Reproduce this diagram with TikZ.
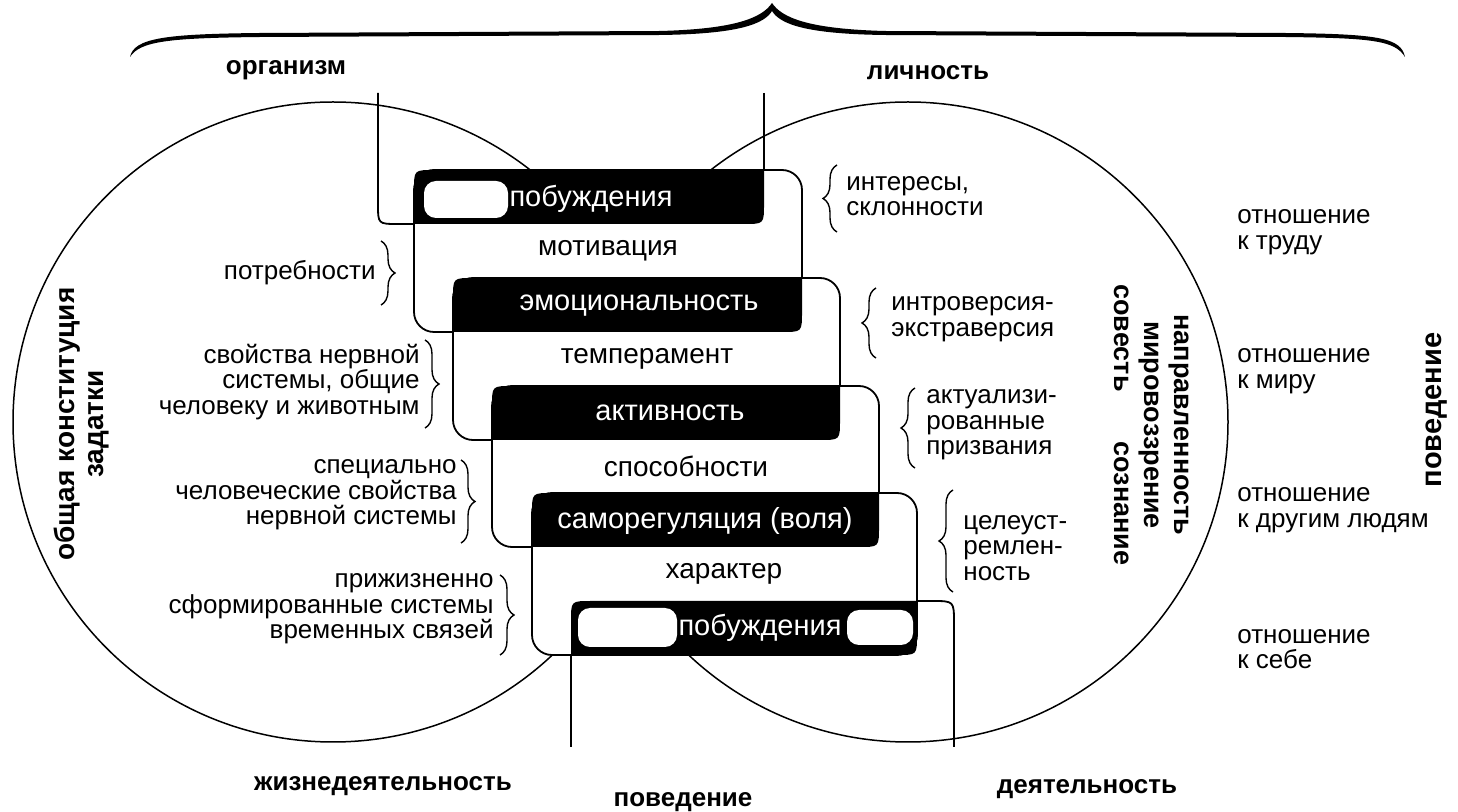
\documentclass[tikz,border=0pt]{standalone}
\usepackage{fontspec}
\setmainfont{Liberation Sans}
\usetikzlibrary{decorations.pathreplacing}

\tikzset{
  reg/.style={inner sep=0pt,font=\fontsize{13}{12.8}\selectfont},
  regl/.style={reg,align=left,anchor=west},
  regr/.style={reg,align=right,anchor=east},
  bld/.style={inner sep=0pt,font=\fontsize{13}{13}\selectfont\bfseries},
  inbar/.style={inner sep=0pt,text=white,font=\fontsize{14.5}{14.5}\selectfont},
  inframe/.style={inner sep=0pt,font=\fontsize{14}{14}\selectfont},
  brc/.style={decorate,decoration={brace,amplitude=7pt},line width=0.7pt},
  frm/.style={line width=0.9pt},
  circ/.style={line width=0.75pt},
}

\begin{document}
\begin{tikzpicture}[x=0.5pt,y=-0.5pt]
  \useasboundingbox (0,0) rectangle (1458,812);
  % big brace on top
  \fill (130,57) .. controls (134,38) and (165,34) .. (260,33) -- (660,31)
        .. controls (735,29) and (762,18) .. (772,3)
        .. controls (782,18) and (809,29) .. (885,31) -- (1285,33)
        .. controls (1380,34) and (1401,38) .. (1405,57)
        .. controls (1395,41) and (1375,38) .. (1285,37) -- (885,35)
        .. controls (805,34) and (780,24) .. (772,11)
        .. controls (764,24) and (739,34) .. (660,35) -- (260,37)
        .. controls (170,38) and (140,41) .. (130,57) -- cycle;
  % circles: organism and personality
  \draw[circ] (333,422) circle[radius=160pt];
  \draw[circ] (908,422) circle[radius=160pt];
  % open frames at top and bottom
  \draw[frm] (378,93) -- (378,204) .. controls (378,224) .. (398,224) -- (414,224);
  \draw[frm] (764,93) -- (764,170);
  \draw[frm] (571,655) -- (571,747);
  \draw[frm] (917,601) -- (932,601) .. controls (954,601) .. (954,623) -- (954,747);
  % white frames
  \draw[frm,fill=white,rounded corners=10pt] (414,170) rectangle (802,332);
  \draw[frm,fill=white,rounded corners=10pt] (453,278) rectangle (840,440);
  \draw[frm,fill=white,rounded corners=10pt] (492,386) rectangle (879,547);
  \draw[frm,fill=white,rounded corners=10pt] (532,493) rectangle (917,655);
  % black bars
  \fill (414,224) -- (414,190) .. controls (414,170) .. (434,170) -- (764,170)
        -- (764,204) .. controls (764,224) .. (744,224) -- cycle;
  \fill (453,332) -- (453,298) .. controls (453,278) .. (473,278) -- (802,278)
        -- (802,312) .. controls (802,332) .. (782,332) -- cycle;
  \fill (492,440) -- (492,406) .. controls (492,386) .. (512,386) -- (840,386)
        -- (840,420) .. controls (840,440) .. (820,440) -- cycle;
  \fill (532,547) -- (532,513) .. controls (532,493) .. (552,493) -- (879,493)
        -- (879,527) .. controls (879,547) .. (859,547) -- cycle;
  \fill (571,655) -- (571,621) .. controls (571,601) .. (591,601) -- (917,601)
        -- (917,635) .. controls (917,655) .. (897,655) -- cycle;
  % erased patches
  \fill[white,rounded corners=6pt] (424,181) rectangle (508,218);
  \fill[white,rounded corners=6pt] (578,608) rectangle (677,647);
  \fill[white,rounded corners=6pt] (847,610) rectangle (913,645);
  % labels in bars and frames
  \node[inbar] (pob1) at (591,199) {побуждения};
  \node[inbar] (emo) at (639,306) {эмоциональность};
  \node[inbar] (akt) at (670,413) {активность};
  \node[inbar] (samo) at (705,521) {саморегуляция (воля)};
  \node[inbar] (pob2) at (760,628) {побуждения};
  \node[inframe] (motiv) at (608,251) {мотивация};
  \node[inframe] (temp) at (647,359) {темперамент};
  \node[inframe] (spos) at (686,466) {способности};
  \node[inframe] (har) at (724,574) {характер};
  % left side
  \node[regr] (potr) at (376,273) {потребности};
  \node[regr] (svnerv) at (420,382) {свойства нервной\\системы, общие\\человеку и животным};
  \node[regr] (spec) at (457,495) {специально\\человеческие свойства\\нервной системы};
  \node[regr] (prizh) at (494,609) {прижизненно\\сформированные системы\\временных связей};
  \draw[brc] (381,241) -- (381,305);
  \draw[brc] (425,340) -- (425,428);
  \draw[brc] (461,460) -- (461,543);
  \draw[brc] (500,575) -- (500,655);
  % right side
  \node[regl] (inter) at (846,196) {интересы,\\склонности};
  \node[regl] (intro) at (891,319) {интроверсия-\\экстраверсия};
  \node[regl] (aktual) at (926,425) {актуализи-\\рованные\\призвания};
  \node[regl] (celeust) at (963,548) {целеуст-\\ремлен-\\ность};
  \draw[brc] (837,232) -- (837,165);
  \draw[brc] (876,358) -- (876,288);
  \draw[brc] (915,468) -- (915,388);
  \draw[brc] (953,592) -- (953,490);
  \node[regl] (trud) at (1237,232) {отношение\\к труду};
  \node[regl] (mir) at (1237,371) {отношение\\к миру};
  \node[regl] (lyud) at (1237,510) {отношение\\к другим людям};
  \node[regl] (sebe) at (1237,649) {отношение\\к себе};
  % vertical labels
  \node[bld,rotate=90,align=center,font=\fontsize{14}{14.5}\selectfont\bfseries] (konst) at (82,424) {общая конституция\\задатки};
  \node[bld,rotate=-90,align=center,font=\fontsize{13.5}{15}\selectfont\bfseries] (napr) at (1152,425) {направленность\\мировоззрение\\совесть\hspace{25pt}сознание};
  \node[bld,rotate=90,font=\fontsize{14.5}{14.5}\selectfont\bfseries] (povr) at (1437,410) {поведение};
  % top and bottom labels
  \node[bld] (organ) at (286,70) {организм};
  \node[bld] (lichn) at (928,73) {личность};
  \node[bld] (zhizn) at (383,786) {жизнедеятельность};
  \node[bld] (povb) at (683,802) {поведение};
  \node[bld] (deyat) at (1087,789) {деятельность};
\end{tikzpicture}
\end{document}
